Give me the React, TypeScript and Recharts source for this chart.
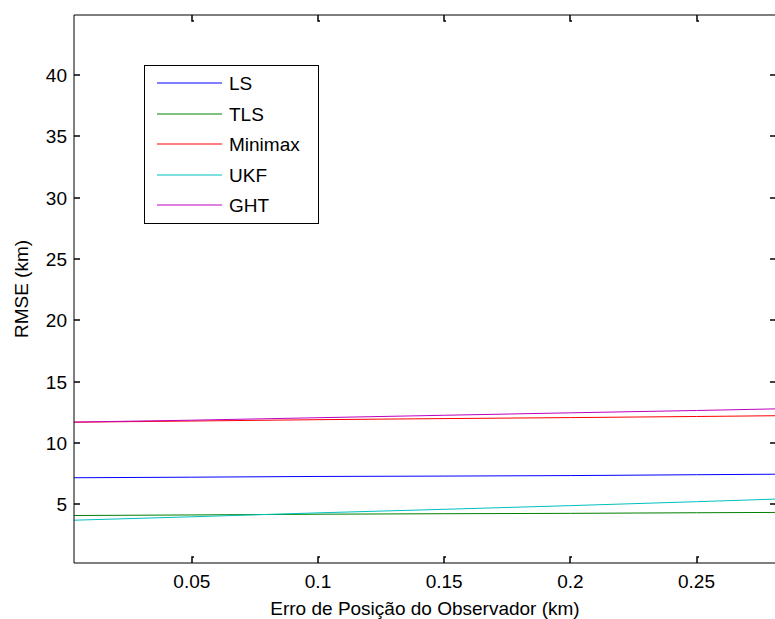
import React from 'react';
import { LineChart, Line, XAxis, YAxis, Legend } from 'recharts';

// observer position error (km)
const posError = [0, 0.05, 0.1, 0.15, 0.2, 0.25, 0.3];

// RMSE (km) per estimator
const ls = [7.15, 7.2, 7.26, 7.29, 7.33, 7.4, 7.47];
const tls = [4.07, 4.12, 4.18, 4.22, 4.25, 4.3, 4.34];
const minimax = [11.68, 11.78, 11.89, 11.98, 12.06, 12.15, 12.25];
const ukf = [3.67, 3.97, 4.29, 4.58, 4.88, 5.2, 5.54];
const ght = [11.68, 11.85, 12.05, 12.25, 12.45, 12.64, 12.85];

const xTicks = [0.05, 0.1, 0.15, 0.2, 0.25];
const yTicks = [5, 10, 15, 20, 25, 30, 35, 40];

const data = posError.map((x, i) => ({
  x,
  LS: ls[i],
  TLS: tls[i],
  Minimax: minimax[i],
  UKF: ukf[i],
  GHT: ght[i],
}));

const series = [
  { key: 'LS', color: '#0000ff' },
  { key: 'TLS', color: '#008000' },
  { key: 'Minimax', color: '#ff0000' },
  { key: 'UKF', color: '#00bfbf' },
  { key: 'GHT', color: '#bf00bf' },
];

const FONT = '"Liberation Sans", Arial, sans-serif';
const xDomain = [0.0033, 0.2815];
const yDomain = [0.2, 44.9];

// matlab style: tick marks point into the plot; x/y sit on the axis line
const BottomTick = (props: any) => {
  const { x, y, payload } = props;
  const px = Math.round(Number(x));
  const py = Number(y);
  return (
    <g>
      <path d={`M${px},${py}V${py - 6}h2`} stroke="#000" strokeWidth={1.5} fill="none" />
      <text x={x} y={py + 25} textAnchor="middle" fontSize={19} fill="#000" fontFamily={FONT}>
        {String(payload.value)}
      </text>
    </g>
  );
};

const TopTick = (props: any) => {
  const px = Math.round(Number(props.x));
  const py = Number(props.y);
  return <path d={`M${px},${py}V${py + 6}h2`} stroke="#000" strokeWidth={1.5} fill="none" />;
};

const LeftTick = (props: any) => {
  const { payload } = props;
  const px = Number(props.x);
  const py = Math.round(Number(props.y));
  return (
    <g>
      <path d={`M${px},${py}H${px + 6}`} stroke="#000" strokeWidth={1.5} fill="none" />
      <text x={px - 7} y={py + 7} textAnchor="end" fontSize={19} fill="#000" fontFamily={FONT}>
        {String(payload.value)}
      </text>
    </g>
  );
};

const RightTick = (props: any) => {
  const px = Number(props.x);
  const py = Math.round(Number(props.y));
  return <path d={`M${px},${py}H${px - 6}`} stroke="#000" strokeWidth={1.5} fill="none" />;
};

const LegendBox = () => (
  <div style={{ width: 175, height: 159, border: '1px solid #000', boxSizing: 'border-box', background: '#fff' }}>
    <svg width={173} height={157}>
      {series.map((s, i) => {
        const cy = Math.round(17 + i * 30.5);
        return (
          <g key={s.key}>
            <line x1={12} y1={cy} x2={77} y2={cy} stroke={s.color} strokeWidth={1.2} />
            <text x={84} y={cy + 7} fontSize={19} fill="#000" fontFamily={FONT}>
              {s.key}
            </text>
          </g>
        );
      })}
    </svg>
  </div>
);

export default function App() {
  return (
    <div style={{ position: 'absolute', left: 0, top: 0, width: 775, height: 619, overflow: 'hidden', background: '#fff' }}>
      <LineChart width={800} height={619} data={data} margin={{ top: 14, right: 23, bottom: 0, left: 0 }}>
        <XAxis
          dataKey="x"
          type="number"
          domain={xDomain}
          ticks={xTicks}
          allowDataOverflow
          height={56}
          tickSize={0}
          tickMargin={0}
          tickLine={false}
          tick={<BottomTick />}
          axisLine={{ stroke: '#000' }}
          label={{ value: 'Erro de Posição do Observador (km)', position: 'insideBottom', offset: 4, fontSize: 19, fill: '#000', fontFamily: FONT }}
        />
        <XAxis
          xAxisId="top"
          dataKey="x"
          type="number"
          orientation="top"
          domain={xDomain}
          ticks={xTicks}
          allowDataOverflow
          height={1}
          tickSize={0}
          tickMargin={0}
          tickLine={false}
          tick={<TopTick />}
          axisLine={{ stroke: '#000' }}
        />
        <YAxis
          type="number"
          domain={yDomain}
          ticks={yTicks}
          allowDataOverflow
          width={74}
          tickSize={0}
          tickMargin={0}
          tickLine={false}
          tick={<LeftTick />}
          axisLine={{ stroke: '#000' }}
          label={{ value: 'RMSE (km)', angle: -90, position: 'insideLeft', offset: 21, fontSize: 19, fill: '#000', fontFamily: FONT, style: { textAnchor: 'middle' } }}
        />
        <YAxis
          yAxisId="right"
          type="number"
          orientation="right"
          domain={yDomain}
          ticks={yTicks}
          allowDataOverflow
          width={1}
          tickSize={0}
          tickMargin={0}
          tickLine={false}
          tick={<RightTick />}
          axisLine={{ stroke: '#000' }}
        />
        <Legend
          layout="vertical"
          align="center"
          verticalAlign="middle"
          content={<LegendBox />}
          wrapperStyle={{ left: 144, top: 65, width: 175, height: 159 }}
        />
        {series.map((s) => (
          <Line
            key={s.key}
            type="linear"
            dataKey={s.key}
            name={s.key}
            stroke={s.color}
            strokeWidth={1}
            dot={false}
            activeDot={false}
            isAnimationActive={false}
          />
        ))}
      </LineChart>
    </div>
  );
}
